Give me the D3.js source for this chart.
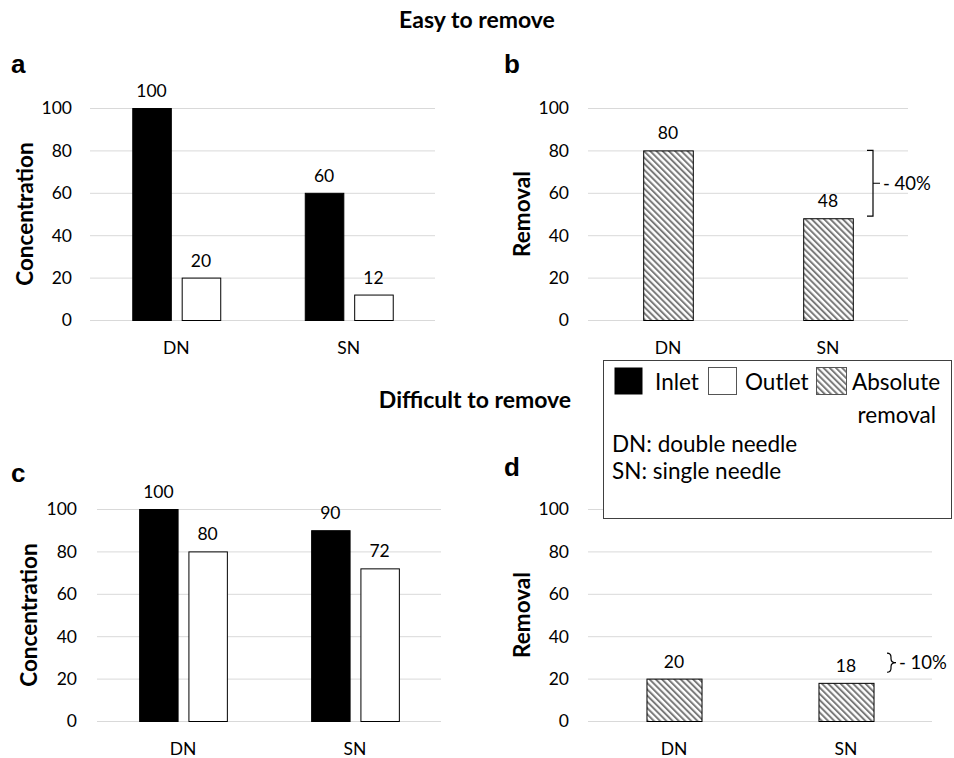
<!DOCTYPE html>
<html lang="en">
<head>
<meta charset="UTF-8" />
<title>Easy / difficult to remove</title>
<script src="https://d3js.org/d3.v7.min.js"></script>
<style>
    body { margin: 0; background: #fff; }
    svg { display: block; font-family: Lato, "Open Sans", sans-serif; }
</style>
</head>
<body>
<svg id="chart" width="954" height="758"></svg>
<script>
    // data
    const categories = ["DN", "SN"];
    const seriesNames = ["Inlet", "Outlet"];
    const easyInlet = [100, 60];
    const easyOutlet = [20, 12];
    const easyRemoval = [80, 48];
    const hardInlet = [100, 90];
    const hardOutlet = [80, 72];
    const hardRemoval = [20, 18];
    const yTicks = [0, 20, 40, 60, 80, 100];
    const easyDrop = { from: 80, to: 49, label: "- 40%" };
    const hardDrop = { from: 32, to: 23, label: "- 10%" };

    const svg = d3.select("#chart");
    const grid = "#d9d9d9";
    const hatchGray = "#7a7a7a";
    const small = 17.5;

    // hatch pattern for "absolute removal"
    const pat = svg.append("defs").append("pattern")
        .attr("id", "hatch")
        .attr("patternUnits", "userSpaceOnUse")
        .attr("width", 4.4)
        .attr("height", 10)
        .attr("patternTransform", "rotate(-45)");
    pat.append("rect").attr("width", 4.4).attr("height", 10).attr("fill", "#fff");
    pat.append("line")
        .attr("x1", 1).attr("y1", 0).attr("x2", 1).attr("y2", 10)
        .attr("stroke", hatchGray).attr("stroke-width", 2);

    // shared axis bits: gridlines, tick labels, category labels, titles
    function drawFrame(x, y, opts) {
        const g = svg.append("g");
        const [x0, x1] = x.range();

        g.selectAll("line.grid").data(yTicks).join("line")
            .attr("x1", x0).attr("x2", x1)
            .attr("y1", d => y(d) + 0.5).attr("y2", d => y(d) + 0.5)
            .attr("stroke", grid).attr("stroke-width", 1);

        g.selectAll("text.ytick").data(yTicks).join("text")
            .attr("x", x0 - opts.tickGap)
            .attr("y", d => y(d))
            .attr("dy", "0.36em")
            .attr("text-anchor", "end")
            .attr("font-size", small)
            .text(d => d);

        g.selectAll("text.xlab").data(categories).join("text")
            .attr("x", d => x(d) + x.bandwidth() / 2)
            .attr("y", y(0) + 34)
            .attr("text-anchor", "middle")
            .attr("font-size", small)
            .text(d => d);

        const yMid = (y(0) + y(100)) / 2;
        g.append("text")
            .attr("transform", `translate(${opts.titleX},${yMid}) rotate(-90)`)
            .attr("dy", "0.36em")
            .attr("text-anchor", "middle")
            .attr("font-size", 22.5)
            .attr("font-weight", "bold")
            .text(opts.title);

        g.append("text")
            .attr("x", opts.letterX)
            .attr("y", opts.letterY)
            .attr("font-family", "'Liberation Sans', Arial, sans-serif")
            .attr("font-size", 26)
            .attr("font-weight", "bold")
            .text(opts.letter);
        return g;
    }

    function concentrationPanel(xRange, yRange, inlet, outlet, opts) {
        const x = d3.scaleBand().domain(categories).range(xRange)
            .paddingInner(0.49).paddingOuter(0.245);
        const xs = d3.scaleBand().domain(seriesNames).range([0, x.bandwidth()]).paddingInner(0.22);
        const y = d3.scaleLinear().domain([0, 100]).range(yRange);
        const g = drawFrame(x, y, opts);

        const rows = [];
        categories.forEach((c, i) => {
            rows.push({ cat: c, s: "Inlet", v: inlet[i] });
            rows.push({ cat: c, s: "Outlet", v: outlet[i] });
        });

        g.selectAll("rect.bar").data(rows).join("rect")
            .attr("x", d => x(d.cat) + xs(d.s) + 0.5)
            .attr("y", d => y(d.v) + 0.5)
            .attr("width", xs.bandwidth())
            .attr("height", d => y(0) - y(d.v))
            .attr("fill", d => d.s === "Inlet" ? "#000" : "#fff")
            .attr("stroke", "#000")
            .attr("stroke-width", 1);

        g.selectAll("text.val").data(rows).join("text")
            .attr("x", d => x(d.cat) + xs(d.s) + xs.bandwidth() / 2)
            .attr("y", d => y(d.v) - 11)
            .attr("text-anchor", "middle")
            .attr("font-size", small)
            .text(d => d.v);
    }

    function removalPanel(xRange, yRange, removal, drop, opts) {
        const x = d3.scaleBand().domain(categories).range(xRange)
            .paddingInner(opts.pad).paddingOuter(opts.pad / 2);
        const y = d3.scaleLinear().domain([0, 100]).range(yRange);
        const g = drawFrame(x, y, opts);

        const rows = categories.map((c, i) => ({ cat: c, v: removal[i] }));

        g.selectAll("rect.bar").data(rows).join("rect")
            .attr("x", d => x(d.cat) + 0.5)
            .attr("y", d => y(d.v) + 0.5)
            .attr("width", x.bandwidth())
            .attr("height", d => y(0) - y(d.v))
            .attr("fill", "url(#hatch)")
            .attr("stroke", "#000")
            .attr("stroke-width", 1);

        g.selectAll("text.val").data(rows).join("text")
            .attr("x", d => x(d.cat) + x.bandwidth() / 2)
            .attr("y", d => y(d.v) - 11)
            .attr("text-anchor", "middle")
            .attr("font-size", small)
            .text(d => d.v);

        // bracket showing the drop from DN to SN
        const bx = opts.bracketX;
        const top = y(drop.from), bot = y(drop.to), mid = (top + bot) / 2;
        let path;
        if (opts.curly) {
            const r = 4;
            path = `M${bx - 4},${top} Q${bx},${top} ${bx},${top + r} L${bx},${mid - r} Q${bx},${mid} ${bx + 5},${mid}` +
                ` Q${bx},${mid} ${bx},${mid + r} L${bx},${bot - r} Q${bx},${bot} ${bx - 4},${bot}`;
        } else {
            path = `M${bx - 6},${top} L${bx},${top} L${bx},${bot} L${bx - 6},${bot} M${bx},${mid} L${bx + 7},${mid}`;
        }
        g.append("path").attr("d", path)
            .attr("fill", "none").attr("stroke", "#000").attr("stroke-width", 1.2);
        g.append("text")
            .attr("x", bx + (opts.curly ? 8 : 10))
            .attr("y", mid)
            .attr("dy", "0.36em")
            .attr("font-size", 18.5)
            .text(drop.label);
    }

    // titles
    svg.append("text").attr("x", 477).attr("y", 28)
        .attr("text-anchor", "middle").attr("font-size", 23).attr("font-weight", "bold")
        .text("Easy to remove");
    svg.append("text").attr("x", 475).attr("y", 408)
        .attr("text-anchor", "middle").attr("font-size", 23).attr("font-weight", "bold")
        .text("Difficult to remove");

    concentrationPanel([90, 435], [320, 108], easyInlet, easyOutlet,
        { title: "Concentration", titleX: 25, tickGap: 18, letter: "a", letterX: 11, letterY: 73 });
    removalPanel([588, 908], [320, 108], easyRemoval, easyDrop,
        { title: "Removal", titleX: 522, tickGap: 19, letter: "b", letterX: 504, letterY: 73,
          pad: 0.69, bracketX: 873, curly: false });
    concentrationPanel([97, 441], [721, 509], hardInlet, hardOutlet,
        { title: "Concentration", titleX: 29, tickGap: 20, letter: "c", letterX: 11, letterY: 482 });
    removalPanel([588, 932], [721, 509], hardRemoval, hardDrop,
        { title: "Removal", titleX: 522, tickGap: 19, letter: "d", letterX: 504, letterY: 476,
          pad: 0.68, bracketX: 891, curly: true });

    // legend box
    const lg = svg.append("g");
    lg.append("rect").attr("x", 603.5).attr("y", 360.5).attr("width", 348).attr("height", 158)
        .attr("fill", "#fff").attr("stroke", "#404040").attr("stroke-width", 1);
    const legendItems = [
        { name: "Inlet", fill: "#000", x: 614, tx: 655 },
        { name: "Outlet", fill: "#fff", x: 708, tx: 745 },
        { name: "Absolute", fill: "url(#hatch)", x: 816, tx: 852 }
    ];
    lg.selectAll("rect.sw").data(legendItems).join("rect")
        .attr("x", d => d.x + 0.5).attr("y", 367.5)
        .attr("width", d => d.name === "Absolute" ? 30 : 28).attr("height", 27)
        .attr("fill", d => d.fill)
        .attr("stroke", d => d.name === "Inlet" ? "none" : "#555")
        .attr("stroke-width", 1);
    lg.selectAll("text.lt").data(legendItems).join("text")
        .attr("x", d => d.tx).attr("y", 390)
        .attr("font-size", 22.5)
        .text(d => d.name);
    lg.append("text").attr("x", 936).attr("y", 423).attr("text-anchor", "end")
        .attr("font-size", 22.5).text("removal");
    lg.append("text").attr("x", 612).attr("y", 452).attr("font-size", 22.5).text("DN: double needle");
    lg.append("text").attr("x", 612).attr("y", 479).attr("font-size", 22.5).text("SN: single needle");
</script>
</body>
</html>
